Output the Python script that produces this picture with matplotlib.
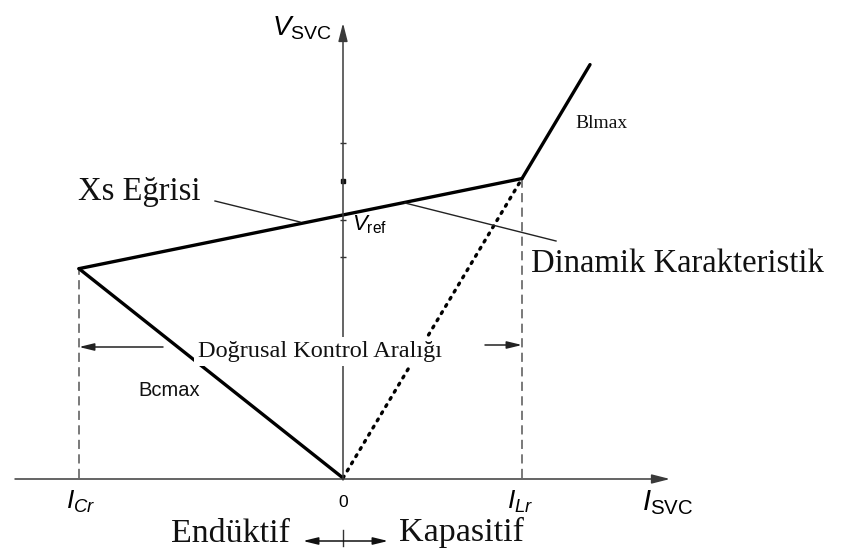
import matplotlib
matplotlib.use('Agg')
import matplotlib.pyplot as plt
import matplotlib.transforms as mtransforms

plt.rcParams['mathtext.fontset'] = 'custom'
plt.rcParams['mathtext.rm'] = 'Liberation Sans'
plt.rcParams['mathtext.it'] = 'Liberation Sans:italic'
plt.rcParams['mathtext.bf'] = 'Liberation Sans:bold'

# ---- data (per unit: I_Lr = 1, V_ref = 1) ----
I_CR = -1.475          # capacitive rated current
I_LR = 1.0             # inductive rated current
V_AT_ICR = 0.79        # voltage at I_Cr
V_AT_ILR = 1.13        # voltage at I_Lr
V_REF = 1.0
dyn_I = [I_CR, I_LR]           # dynamic characteristic
dyn_V = [V_AT_ICR, V_AT_ILR]
bc_I = [I_CR, 0.0]             # Bcmax line
bc_V = [V_AT_ICR, 0.0]
bl_I = [I_LR, 1.38]            # Blmax line
bl_V = [V_AT_ILR, 1.56]
dot_I = [0.0, I_LR]            # dotted reactor line
dot_V = [0.0, V_AT_ILR]
vtick_V = [0.834, 1.264, 0.974]  # small marks on the vertical axis
vdot_V = [1.121]

SERIF = 'Liberation Serif'
SANS = 'Liberation Sans'

fig = plt.figure(figsize=(8.48, 5.48), dpi=100)
ax = fig.add_axes([0, 0, 1, 1])
ax.set_xlim(-343 / 179, (848 - 343) / 179)
ax.set_ylim(-(548 - 478) / 265, 478 / 265)
ax.axis('off')

# pixel-layout transform (for annotations)
px = mtransforms.Affine2D().scale(1 / 848, -1 / 548).translate(0, 1) + fig.transFigure

# axes with arrows
axis_kw = dict(arrowstyle='-|>,head_length=1.1,head_width=0.28', color='#3a3a3a',
               lw=1.1, shrinkA=0, shrinkB=0)
ax.annotate('', xy=(670, 479), xytext=(15, 479), xycoords=px, textcoords=px,
            arrowprops=axis_kw)
ax.annotate('', xy=(343, 23), xytext=(343, 480), xycoords=px, textcoords=px,
            arrowprops=axis_kw)

# small axis marks
ax.plot([0.0] * len(vtick_V), vtick_V, marker='_', ms=5, mew=1.0, ls='none', color='#333')
ax.plot([0.0] * len(vdot_V), vdot_V, marker='s', ms=2.2, ls='none', color='#111')

# dashed limit lines
dash = dict(ls=(0, (6, 3.5)), color='#555', lw=1.1)
ax.plot([I_CR, I_CR], [0, V_AT_ICR], **dash)
ax.plot([I_LR, I_LR], [0, V_AT_ILR], **dash)

# characteristic lines
thick = dict(color='black', lw=2.4, solid_capstyle='round', solid_joinstyle='round')
ax.plot(dyn_I, dyn_V, **thick)
ax.plot(bc_I, bc_V, **thick)
ax.plot(bl_I, bl_V, **thick)
ax.plot(dot_I, dot_V, color='black', lw=2.4, ls=(0, (0.6, 1.9)), dash_capstyle='round')

# leader lines
ax.plot([215, 300], [201, 222], color='#222', lw=1.0, transform=px)
ax.plot([405, 556], [203, 241], color='#222', lw=1.0, transform=px)

# texts
ax.text(78, 200, 'Xs Eğrisi', transform=px, family=SERIF, fontsize=23.5,
        ha='left', va='baseline', color='#111')
ax.text(531, 272, 'Dinamik Karakteristik', transform=px, family=SERIF, fontsize=23.5,
        ha='left', va='baseline', color='#111')
ax.text(320, 357, 'Doğrusal Kontrol Aralığı', transform=px, family=SERIF, fontsize=17.5,
        ha='center', va='baseline', color='#111', zorder=5,
        bbox=dict(boxstyle='square,pad=0.15', fc='white', ec='none'))
ax.text(138, 396, 'Bcmax', transform=px, family=SANS, fontsize=14.5,
        ha='left', va='baseline', color='#111')
ax.text(575, 128, 'Blmax', transform=px, family=SERIF, fontsize=14,
        ha='left', va='baseline', color='#111')

# range arrows
rng = dict(arrowstyle='-|>,head_length=0.9,head_width=0.22', color='#222', lw=1.1,
           shrinkA=0, shrinkB=0)
ax.annotate('', xy=(79, 347), xytext=(163, 347), xycoords=px, textcoords=px, arrowprops=rng)
ax.annotate('', xy=(522, 345), xytext=(485, 345), xycoords=px, textcoords=px, arrowprops=rng)

# axis labels
ax.text(332, 35, r'$V_{\mathrm{SVC}}$', transform=px, fontsize=20, ha='right', va='baseline')
ax.text(352, 230, r'$V_{\mathrm{ref}}$', transform=px, fontsize=16, ha='left', va='baseline')
ax.text(66, 509, r'$I_{Cr}$', transform=px, fontsize=19, ha='left', va='baseline')
ax.text(343, 507, '0', transform=px, family=SANS, fontsize=12.5, ha='center', va='baseline')
ax.text(507, 509, r'$I_{Lr}$', transform=px, fontsize=19, ha='left', va='baseline')
ax.text(642, 510, r'$I_{\mathrm{SVC}}$', transform=px, fontsize=21, ha='left', va='baseline')

# inductive / capacitive
ax.text(290, 542, 'Endüktif', transform=px, family=SERIF, fontsize=24.5,
        ha='right', va='baseline', color='#111')
ax.text(399, 541, 'Kapasitif', transform=px, family=SERIF, fontsize=24.5,
        ha='left', va='baseline', color='#111')
ax.annotate('', xy=(303, 541), xytext=(388, 541), xycoords=px, textcoords=px,
            arrowprops=dict(arrowstyle='<|-|>,head_length=0.9,head_width=0.22',
                            color='#111', lw=1.1, shrinkA=0, shrinkB=0))
ax.plot([343, 343], [530, 546], color='#333', lw=1.0, transform=px)

fig.savefig('out.png', dpi=100)
